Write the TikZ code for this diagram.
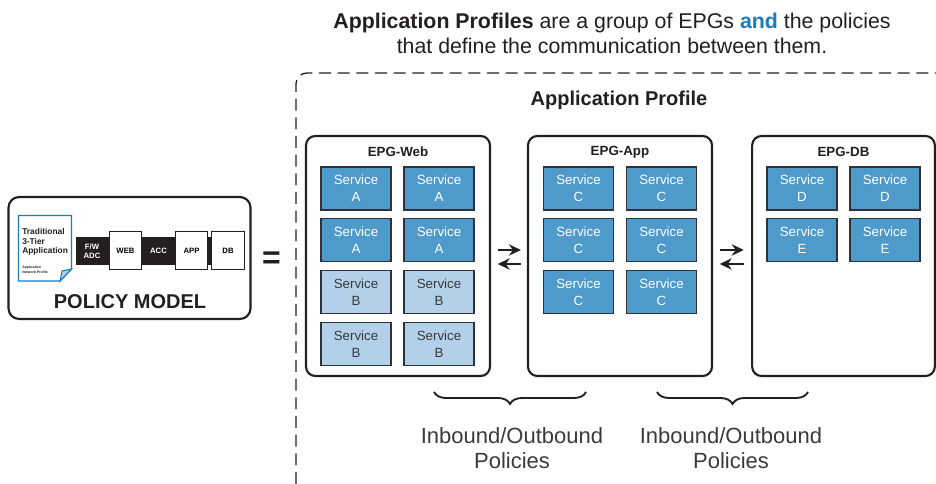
\documentclass[tikz,border=0pt]{standalone}
\usepackage{fontspec}
\setmainfont{Liberation Sans}
\usepackage{xcolor}
\usepackage{tikz}
\usetikzlibrary{arrows.meta,positioning,decorations.pathreplacing}
\definecolor{apink}{HTML}{231F20}
\definecolor{apinkmuted}{HTML}{3A3A3A}
\definecolor{apblue}{HTML}{4E9ACB}
\definecolor{apsky}{HTML}{B3D0EA}
\definecolor{apcobalt}{HTML}{1A7BBF}
\definecolor{apedge}{HTML}{2D3238}

\tikzset{
  epgbox/.style={draw=apink,line width=1.6pt,rounded corners=7pt,fill=white,
    minimum width=138pt,minimum height=180pt,inner sep=0pt},
  svcbox/.style={draw=apedge,line width=0.9pt,fill=apblue,text=white,align=center,
    minimum width=52.5pt,minimum height=32.25pt,inner sep=0pt,
    font=\fontsize{10}{12.5}\selectfont},
  svclight/.style={svcbox,fill=apsky,text=apinkmuted},
  epgtitle/.style={font=\bfseries\fontsize{10}{12}\selectfont,text=apink},
  flow/.style={-{Stealth[length=9pt,width=8.5pt,inset=3pt]},line width=1.9pt,apink},
  brace/.style={decorate,decoration={brace,amplitude=9pt,mirror},line width=1.4pt,apink},
  policytext/.style={align=center,text=apinkmuted,font=\fontsize{16.5}{18.75}\selectfont},
  tierwhite/.style={draw=apink,line width=0.8pt,fill=white,minimum width=24.5pt,
    minimum height=29pt,inner sep=0pt,font=\bfseries\fontsize{5.8}{7}\selectfont},
  tierblack/.style={fill=apink,text=white,align=center,minimum width=23pt,
    minimum height=21pt,inner sep=0pt,font=\bfseries\fontsize{5.8}{7}\selectfont}
}

\begin{document}
\begin{tikzpicture}[x=0.75pt,y=-0.75pt]
  \useasboundingbox (0,0) rectangle (936,484);

  % heading
  \node[align=center,text=apink,font=\fontsize{16}{18.75}\selectfont] (head) at (612,33)
    {\textbf{Application Profiles} are a group of EPGs \textcolor{apcobalt}{\textbf{and}} the policies\\
     that define the communication between them.};

  % open dashed frame of the profile
  \draw[apink,line width=1pt,dash pattern=on 9pt off 5pt,rounded corners=8pt]
    (296,484) -- (296,73) -- (936,73);
  \node[font=\bfseries\fontsize{15}{18}\selectfont,text=apink] (prof) at (619,100) {Application Profile};

  % policy model on the left
  \node[draw=apink,line width=1.6pt,rounded corners=8pt,minimum width=181.5pt,
    minimum height=91.5pt] (policy) at (129.5,258) {};
  \node[font=\bfseries\fontsize{15}{18}\selectfont,text=apink] (pmlabel) at (130,302) {POLICY MODEL};
  \draw[apcobalt,line width=1pt,fill=white]
    (18.5,215.5) -- (71.5,215.5) -- (71.5,269) -- (60,281) -- (18.5,281) -- cycle;
  \draw[apcobalt,line width=0.8pt,fill=apsky] (71.5,269) -- (62,271) -- (60,281) -- cycle;
  \node[align=left,anchor=north west,inner sep=0pt,text=apink,
    font=\bfseries\fontsize{6.3}{7.3}\selectfont] (paper) at (22,228) {Traditional\\3-Tier\\Application};
  \node[align=left,anchor=north west,inner sep=0pt,text=apink,
    font=\bfseries\fontsize{2.6}{3.2}\selectfont] (paperfoot) at (22,266) {Application\\Network Profile};
  \fill[apink] (76,237) rectangle (212,265);
  \node[tierblack] (fw) at (92,251) {F/W\\ADC};
  \node[tierwhite] (tweb) at (125.5,250.5) {WEB};
  \node[tierblack] (acc) at (158.5,251) {ACC};
  \node[tierwhite] (tapp) at (191.5,250.5) {APP};
  \node[tierwhite] (tdb) at (228,250.5) {DB};
  \node[font=\bfseries\fontsize{24}{24}\selectfont,text=apink] (eq) at (271.5,260) {=};

  % endpoint groups
  \node[epgbox] (web) at (398,256) {};
  \node[epgbox] (app) at (620,256) {};
  \node[epgbox,minimum width=137pt] (db) at (843.5,256) {};
  \node[epgtitle] at (398,152) {EPG-Web};
  \node[epgtitle] at (620,152) {EPG-App};
  \node[epgtitle] at (843.5,152) {EPG-DB};

  \node[svcbox] (wa1) at (356,188.5) {Service\\A};
  \node[svcbox] (wa2) at (439,188.5) {Service\\A};
  \node[svcbox] (wa3) at (356,240) {Service\\A};
  \node[svcbox] (wa4) at (439,240) {Service\\A};
  \node[svclight] (wb1) at (356,292) {Service\\B};
  \node[svclight] (wb2) at (439,292) {Service\\B};
  \node[svclight] (wb3) at (356,344) {Service\\B};
  \node[svclight] (wb4) at (439,344) {Service\\B};

  \node[svcbox] (ac1) at (578.5,188.5) {Service\\C};
  \node[svcbox] (ac2) at (661.5,188.5) {Service\\C};
  \node[svcbox] (ac3) at (578.5,240) {Service\\C};
  \node[svcbox] (ac4) at (661.5,240) {Service\\C};
  \node[svcbox] (ac5) at (578.5,292) {Service\\C};
  \node[svcbox] (ac6) at (661.5,292) {Service\\C};

  \node[svcbox] (dd1) at (802,188.5) {Service\\D};
  \node[svcbox] (dd2) at (885,188.5) {Service\\D};
  \node[svcbox] (de1) at (802,240) {Service\\E};
  \node[svcbox] (de2) at (885,240) {Service\\E};

  % inbound / outbound traffic
  \draw[flow,shorten <=5pt,shorten >=4.5pt] ([yshift=4.5pt]web.east) -- ([yshift=4.5pt]app.west);
  \draw[flow,shorten <=4.5pt,shorten >=5pt] ([yshift=-6pt]app.west) -- ([yshift=-6pt]web.east);
  \draw[flow,shorten <=5pt,shorten >=5.5pt] ([yshift=4.5pt]app.east) -- ([yshift=4.5pt]db.west);
  \draw[flow,shorten <=5.5pt,shorten >=5pt] ([yshift=-6pt]db.west) -- ([yshift=-6pt]app.east);

  % contracts between the groups
  \draw[brace] (434,392) -- (586,392);
  \draw[brace] (657,392) -- (808,392);
  \node[policytext] (pol1) at (512,448) {Inbound/Outbound\\Policies};
  \node[policytext] (pol2) at (731,448) {Inbound/Outbound\\Policies};
\end{tikzpicture}
\end{document}
